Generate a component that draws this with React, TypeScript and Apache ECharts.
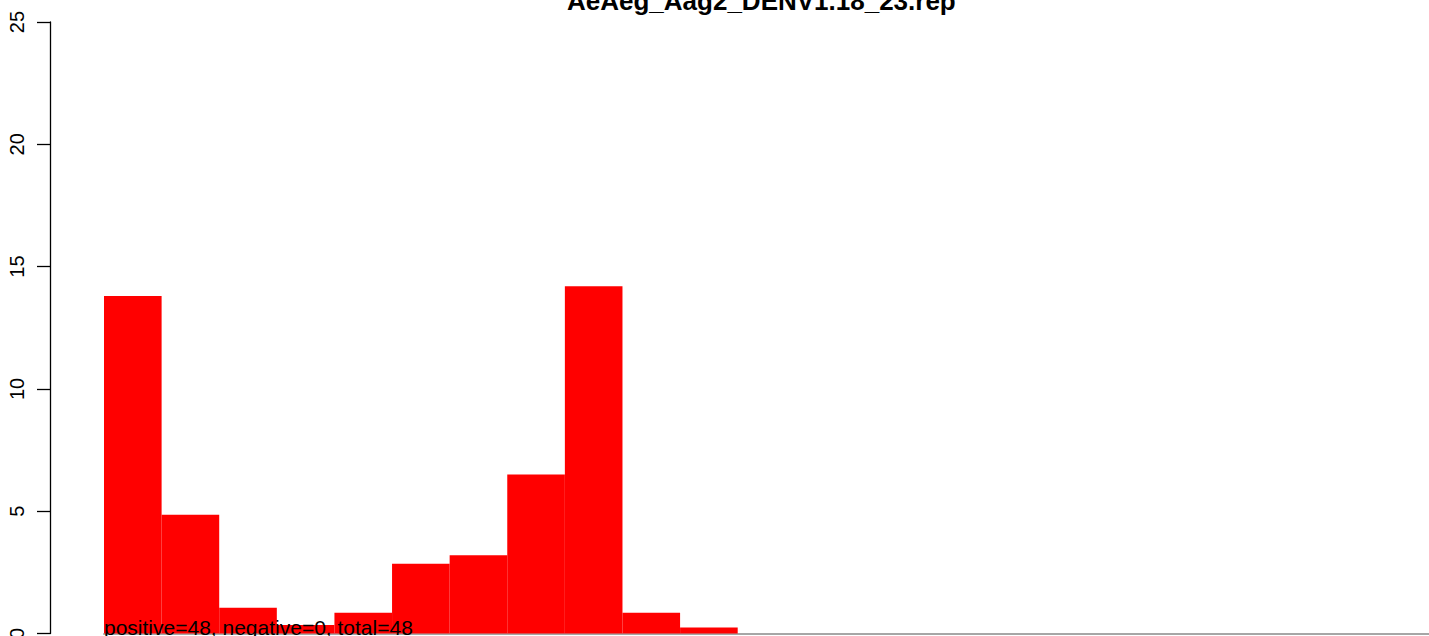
import React, { useEffect, useRef } from "react";
import * as echarts from "echarts";

const titleText = "AeAeg_Aag2_DENV1.18_23.rep";
const noteText = "positive=48, negative=0, total=48";
const categories = [
  "1", "2", "3", "4", "5", "6", "7", "8", "9", "10", "11", "12",
  "13", "14", "15", "16", "17", "18", "19", "20", "21", "22", "23",
];
const values = [
  13.8, 4.85, 1.05, 0.35, 0.85, 2.85, 3.2, 6.5, 14.2, 0.85, 0.25, 0,
  0, 0, 0, 0, 0, 0, 0, 0, 0, 0, 0,
];
const yTicks = { min: 0, max: 25, interval: 5 };

export default function App() {
  const ref = useRef<HTMLDivElement>(null);
  useEffect(() => {
    document.body.style.margin = "0";
    const chart = echarts.init(ref.current!, null, { renderer: "svg" });
    chart.setOption({
      animation: false,
      backgroundColor: "#ffffff",
      textStyle: { fontFamily: "Liberation Sans, Arial, sans-serif" },
      grid: {
        left: 104,
        right: 0,
        top: 22,
        bottom: 2.5,
        containLabel: false,
        outerBoundsMode: "none",
      },
      xAxis: {
        type: "category",
        data: categories,
        axisLine: { show: true, lineStyle: { color: "#a6a6a6", width: 2 } },
        axisTick: { show: false },
        axisLabel: { show: false },
        splitLine: { show: false },
      },
      yAxis: {
        type: "value",
        min: yTicks.min,
        max: yTicks.max,
        interval: yTicks.interval,
        offset: 54,
        axisLine: { show: true, lineStyle: { color: "#000", width: 1.3 } },
        axisTick: { show: true, length: 13, lineStyle: { color: "#000", width: 1.3 } },
        axisLabel: {
          rotate: 90,
          margin: 33,
          color: "#000",
          fontSize: 20,
          fontFamily: "Liberation Sans, Arial, sans-serif",
          verticalAlign: "middle",
          align: "center",
          hideOverlap: false,
        },
        splitLine: { show: false },
      },
      series: [
        {
          type: "bar",
          data: values,
          barCategoryGap: "0%",
          itemStyle: { color: "#ff0000" },
          silent: true,
        },
      ],
      graphic: [
        {
          type: "text",
          left: 762 - 195,
          top: -12,
          z: 100,
          style: {
            text: titleText,
            font: "bold 26px 'Liberation Sans', Arial, sans-serif",
            fill: "#000",
          },
        },
        {
          type: "text",
          left: 104,
          top: 617,
          z: 100,
          style: {
            text: noteText,
            font: "21px 'Liberation Sans', Arial, sans-serif",
            fill: "#000",
          },
        },
      ],
    });
    return () => chart.dispose();
  }, []);
  return <div ref={ref} style={{ width: 1429, height: 636 }} />;
}
